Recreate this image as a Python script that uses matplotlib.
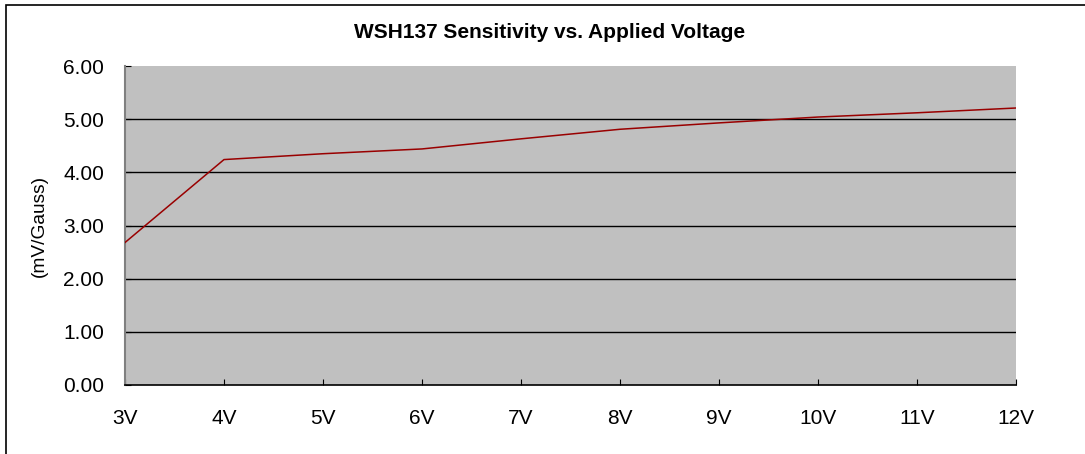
import matplotlib
matplotlib.use("Agg")
import matplotlib.pyplot as plt
from matplotlib.patches import Rectangle

plt.rcParams["font.family"] = ["Liberation Sans", "DejaVu Sans"]

voltages = ["3V", "4V", "5V", "6V", "7V", "8V", "9V", "10V", "11V", "12V"]
sensitivity = [2.68, 4.24, 4.35, 4.44, 4.63, 4.81, 4.93, 5.04, 5.12, 5.21]
y_ticks = [0, 1, 2, 3, 4, 5, 6]

fig = plt.figure(figsize=(10.85, 4.54), dpi=100)
ax = fig.add_axes([125 / 1085, 1 - 385 / 454, (1016 - 125) / 1085, (385 - 66) / 454])
ax.set_facecolor("#c0c0c0")

x = list(range(len(voltages)))
ax.plot(x, sensitivity, color="#990000", linewidth=1.1, zorder=3)

ax.set_xlim(0, len(voltages) - 1)
ax.set_ylim(0, 6)
ax.set_xticks(x)
ax.set_xticklabels(voltages)
ax.set_yticks(y_ticks)
ax.set_yticklabels([f"{v:.2f}" for v in y_ticks])
for v in y_ticks[1:-1]:
    ax.axhline(v, color="black", linewidth=1.0, zorder=2)

ax.tick_params(axis="both", direction="in", length=4, labelsize=15, colors="black")
ax.tick_params(axis="x", pad=17)
ax.tick_params(axis="y", pad=15)
ax.spines["top"].set_visible(False)
ax.spines["right"].set_visible(False)
ax.spines["left"].set_color("#808080")
ax.spines["left"].set_linewidth(1.5)
ax.spines["bottom"].set_color("black")
ax.spines["bottom"].set_linewidth(1.2)

ax.set_ylabel("(mV/Gauss)", fontsize=13.8, labelpad=11)
fig.text(550 / 1085, 1 - 32 / 454, "WSH137 Sensitivity vs. Applied Voltage",
         ha="center", va="center", fontsize=15, fontweight="bold")

# outer chart border (cut off at right and bottom like the source)
fig.patches.append(Rectangle((6 / 1085, -0.1), 1.2, (454 - 5) / 454 + 0.1,
                             transform=fig.transFigure, fill=False,
                             edgecolor="black", linewidth=1.2))

fig.savefig("out.png", dpi=100)
plt.close(fig)
